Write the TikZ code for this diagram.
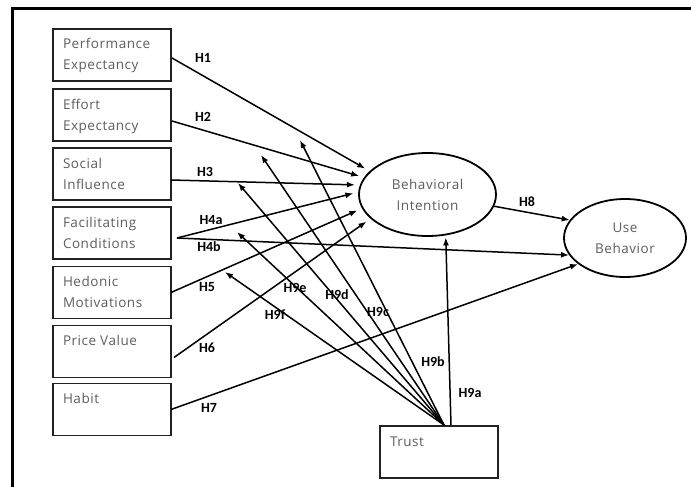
\documentclass[tikz,border=0pt]{standalone}
\usepackage{fontspec}
\setmainfont{Open Sans}
\newfontfamily\boxfont[LetterSpace=4]{Open Sans}
\newfontfamily\labfont{Carlito}
\usetikzlibrary{arrows.meta,calc,shapes.geometric}
\definecolor{txtgray}{HTML}{5E5E5E}
\definecolor{edgec}{HTML}{222222}
\newcommand\boxtxt[1]{\parbox[c][52pt][t]{98pt}{\boxfont\fontsize{13.5}{21}\selectfont\color{txtgray}\rule{0pt}{20pt}#1}}
\begin{document}
\begin{tikzpicture}[x=1pt,y=-1pt,
  cbox/.style={draw=edgec,line width=1.8pt,rectangle,inner xsep=10pt,inner ysep=0pt,outer sep=0pt},
  oval/.style={draw=black,line width=1.8pt,ellipse,inner sep=0pt,align=center,font=\boxfont\fontsize{13.5}{21}\selectfont,text=txtgray},
  lab/.style={font=\labfont\bfseries\fontsize{14}{16}\selectfont,inner sep=0pt},
  arr/.style={line width=1.5pt,draw=black,-{Latex[length=8pt,width=6pt]}}]
\useasboundingbox (0,0) rectangle (691,487);
\fill[white] (0,0) rectangle (691,487);
% frame
\draw[line width=3pt] (12,487) -- (12,9) -- (691,9);
% boxes
\node[cbox] (pe) at (112,55) {\boxtxt{Performance\\Expectancy}};
\node[cbox] (ee) at (112,115) {\boxtxt{Effort\\Expectancy}};
\node[cbox] (si) at (112,174) {\boxtxt{Social\\Influence}};
\node[cbox] (fc) at (112,233) {\boxtxt{Facilitating\\Conditions}};
\node[cbox] (hm) at (112,292.5) {\boxtxt{Hedonic\\Motivations}};
\node[cbox] (pv) at (112,351.5) {\boxtxt{Price Value}};
\node[cbox] (ha) at (112,409.5) {\boxtxt{Habit}};
\node[cbox] (trust) at (439,452) {\boxtxt{Trust}};
% ovals
\node[oval,minimum width=137pt,minimum height=83pt] (bi) at (427.5,194.5) {Behavioral\\Intention};
\node[oval,minimum width=122pt,minimum height=78pt] (ub) at (625,238) {Use\\Behavior};
% labels
\node[lab] (l1) at (203,58) {H1};
\node[lab] (l2) at (203,117) {H2};
\node[lab] (l3) at (205,172) {H3};
\node[lab] (l4a) at (211,220) {H4a};
\node[lab] (l4b) at (209,247) {H4b};
\node[lab] (l5) at (207,287) {H5};
\node[lab] (l6) at (207,348) {H6};
\node[lab] (l7) at (209,408) {H7};
\node[lab] (l8) at (527,202) {H8};
\node[lab] (l9a) at (470,393) {H9a};
\node[lab] (l9b) at (433,362) {H9b};
\node[lab] (l9c) at (378,312) {H9c};
\node[lab] (l9d) at (337,295) {H9d};
\node[lab] (l9e) at (295,288) {H9e};
\node[lab] (l9f) at (275,315) {H9f};
% free ends
\coordinate (e9b) at (300,140);
\coordinate (e9c) at (261,155);
\coordinate (e9d) at (238,183);
\coordinate (e9e) at (237,232);
\coordinate (e9f) at (225,272);
\coordinate (fco) at ($(fc.east)+(6,5)$);
\coordinate (trs) at ($(trust.north)+(5,-1)$);
\coordinate (tra) at ($(trust.north)+(12,-1)$);
% arrows
\draw[arr,shorten >=5pt] ($(pe.east)+(1,3)$) -- (bi.158);
\draw[arr,shorten >=5pt] ($(ee.east)+(1,6)$) -- (bi.165);
\draw[arr,shorten >=5pt] ($(si.east)+(0,6)$) -- (bi.172);
\draw[arr,shorten >=5pt] (fco) -- (bi.178);
\draw[arr] (fco) -- (ub.197);
\draw[arr,shorten >=5pt] (hm.east) -- (bi.192);
\draw[arr,shorten >=5pt] ($(pv.east)+(3,6)$) -- (bi.203);
\draw[arr] (ha.east) -- (ub.209);
\draw[arr] (bi.350) -- (ub.162);
\draw[arr,shorten >=2pt] (tra) -- (bi.294);
\draw[arr] (trs) -- (e9b);
\draw[arr] (trs) -- (e9c);
\draw[arr] (trs) -- (e9d);
\draw[arr] (trs) -- (e9e);
\draw[arr] (trs) -- (e9f);
\end{tikzpicture}
\end{document}
